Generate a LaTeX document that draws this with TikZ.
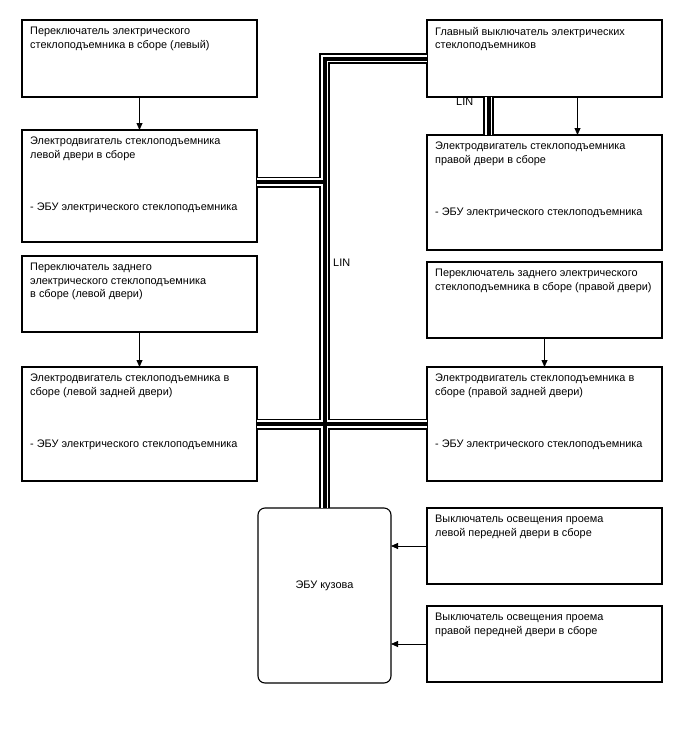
\documentclass[tikz,border=0pt]{standalone}
\usepackage{fontspec}
\setmainfont{Liberation Sans}
\usetikzlibrary{arrows.meta}

\begin{document}
\begin{tikzpicture}[x=1pt,y=-1pt,box/.style={draw,line width=1.1pt,anchor=north west,minimum width=235pt,inner sep=0pt,outer sep=0pt},txt/.style={anchor=north west,align=left,inner sep=0pt,font=\fontsize{10.9}{13.3}\selectfont},arr/.style={-{Triangle[length=7pt,width=6pt]},line width=0.8pt},bus/.style={line width=11pt,postaction={draw,white,line width=7.5pt},postaction={draw,black,line width=4pt}}]
\useasboundingbox (0,0) rectangle (688,755);
% left column
\node[box,minimum height=77pt](swL) at (22,20){};
\node[txt](swLt) at ([xshift=8pt,yshift=-7pt]swL.north west){Переключатель электрического\\стеклоподъемника в сборе (левый)};
\node[box,minimum height=112pt](motL) at (22,130){};
\node[txt](motLt) at ([xshift=8pt,yshift=-7pt]motL.north west){Электродвигатель стеклоподъемника\\левой двери в сборе\\[39pt]- ЭБУ электрического стеклоподъемника};
\node[box,minimum height=76pt](swLR) at (22,256){};
\node[txt](swLRt) at ([xshift=8pt,yshift=-7pt]swLR.north west){Переключатель заднего\\электрического стеклоподъемника\\в сборе (левой двери)};
\node[box,minimum height=114pt](motLR) at (22,367){};
\node[txt](motLRt) at ([xshift=8pt,yshift=-7pt]motLR.north west){Электродвигатель стеклоподъемника в\\сборе (левой задней двери)\\[39pt]- ЭБУ электрического стеклоподъемника};
% right column
\node[box,minimum height=77pt](mainsw) at (427,20){};
\node[txt](mainswt) at ([xshift=8pt,yshift=-7pt]mainsw.north west){Главный выключатель электрических\\стеклоподъемников};
\node[box,minimum height=115pt](motR) at (427,135){};
\node[txt](motRt) at ([xshift=8pt,yshift=-7pt]motR.north west){Электродвигатель стеклоподъемника\\правой двери в сборе\\[39pt]- ЭБУ электрического стеклоподъемника};
\node[box,minimum height=76pt](swRR) at (427,262){};
\node[txt](swRRt) at ([xshift=8pt,yshift=-7pt]swRR.north west){Переключатель заднего электрического\\стеклоподъемника в сборе (правой двери)};
\node[box,minimum height=114pt](motRR) at (427,367){};
\node[txt](motRRt) at ([xshift=8pt,yshift=-7pt]motRR.north west){Электродвигатель стеклоподъемника в\\сборе (правой задней двери)\\[39pt]- ЭБУ электрического стеклоподъемника};
\node[box,minimum height=76pt](dsL) at (427,508){};
\node[txt](dsLt) at ([xshift=8pt,yshift=-7pt]dsL.north west){Выключатель освещения проема\\левой передней двери в сборе};
\node[box,minimum height=76pt](dsR) at (427,606){};
\node[txt](dsRt) at ([xshift=8pt,yshift=-7pt]dsR.north west){Выключатель освещения проема\\правой передней двери в сборе};
% body ECU
\node[box,minimum width=133pt,minimum height=175pt,rounded corners=7pt](ecu) at (258,508){};
\node[txt,anchor=center](ecut) at ([yshift=10pt]ecu.center){ЭБУ кузова};
% LIN bus
\coordinate(tc) at (324.5,58.5);
\coordinate(jA) at (324.5,182);
\draw[bus](mainsw.west)--(tc)--(ecu.north) (motL.east|-jA)--(jA) (motLR.east)--(motRR.west);
\draw[bus]([xshift=-56pt]mainsw.south)--([xshift=-56pt]motR.north);
\node[txt](lin1) at (333,259){LIN};
\node[txt](lin2) at (456,98){LIN};
% signals
\draw[arr](swL)--(motL);
\draw[arr]([xshift=33pt]mainsw.south)--([xshift=33pt]motR.north);
\draw[arr](swLR)--(motLR);
\draw[arr](swRR)--(motRR);
\draw[arr](dsL)--(dsL-|ecu.east);
\draw[arr](dsR)--(dsR-|ecu.east);
\end{tikzpicture}
\end{document}
